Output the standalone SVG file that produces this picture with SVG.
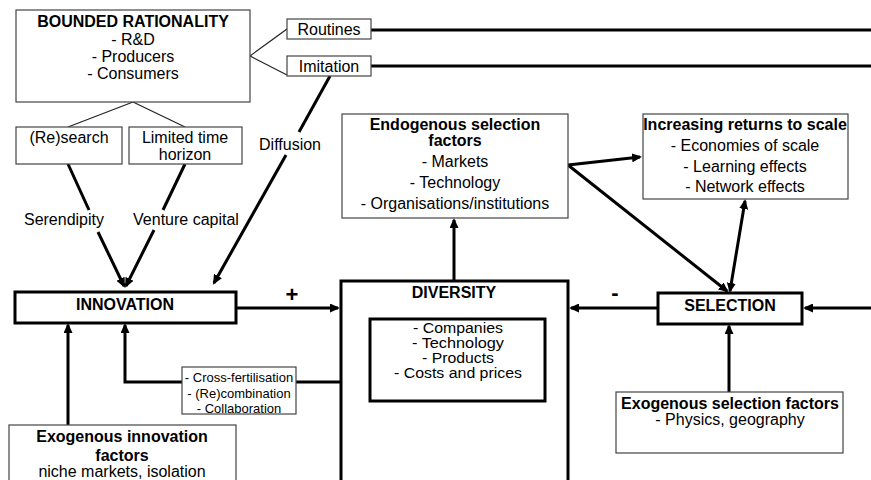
<svg xmlns="http://www.w3.org/2000/svg" width="871" height="480" viewBox="0 0 871 480">
<style>
text{font-family:"Liberation Sans",Arial,sans-serif;font-size:16px;fill:#000;text-anchor:middle}
.b{font-weight:bold}
.s{font-size:13px}
.m{font-size:14px}
.thin{fill:#fff;stroke:#444;stroke-width:1.2}
.thick{fill:#fff;stroke:#000;stroke-width:3}
.c{fill:none;stroke:#000;stroke-width:3}
.t{fill:none;stroke:#222;stroke-width:1.2}
</style>
<defs>
<marker id="a" markerUnits="userSpaceOnUse" markerWidth="10" markerHeight="9" refX="8" refY="4.5" orient="auto">
<path d="M0,0 L10,4.5 L0,9 z" fill="#000"/>
</marker>
<marker id="as" markerUnits="userSpaceOnUse" markerWidth="10" markerHeight="9" refX="2" refY="4.5" orient="auto">
<path d="M10,0 L0,4.5 L10,9 z" fill="#000"/>
</marker>
</defs>

<g id="connectors">
<line class="t" x1="250" y1="56" x2="287" y2="29"/>
<line class="t" x1="250" y1="56" x2="287" y2="75"/>
<line class="t" x1="133" y1="102" x2="68" y2="127"/>
<line class="t" x1="133" y1="102" x2="185" y2="127"/>
<line class="c" x1="371" y1="30" x2="871" y2="30"/>
<line class="c" x1="371" y1="66" x2="871" y2="66"/>
<line class="c" x1="330" y1="76" x2="299" y2="132"/>
<line class="c" x1="286" y1="155" x2="214" y2="283" marker-end="url(#a)"/>
<line class="c" x1="68" y1="164" x2="89" y2="210"/>
<line class="c" x1="98" y1="232" x2="124" y2="286" marker-end="url(#a)"/>
<line class="c" x1="185" y1="164" x2="163" y2="210"/>
<line class="c" x1="154" y1="230" x2="126" y2="286" marker-end="url(#a)"/>
<line class="c" x1="236" y1="308" x2="338" y2="308" marker-end="url(#a)"/>
<line class="c" x1="658" y1="308" x2="571" y2="308" marker-end="url(#a)"/>
<line class="c" x1="871" y1="308" x2="805" y2="308" marker-end="url(#a)"/>
<line class="c" x1="454" y1="281" x2="454" y2="220" marker-end="url(#a)"/>
<line class="c" x1="568" y1="165" x2="640" y2="157" marker-end="url(#a)"/>
<line class="c" x1="568" y1="165" x2="727" y2="291" marker-end="url(#a)"/>
<line class="c" x1="730" y1="291" x2="745" y2="201" marker-start="url(#as)" marker-end="url(#a)"/>
<line class="c" x1="729" y1="392" x2="729" y2="326" marker-end="url(#a)"/>
<line class="c" x1="68" y1="425" x2="68" y2="325" marker-end="url(#a)"/>
<line class="c" x1="341" y1="382" x2="296" y2="382"/>
<polyline class="c" points="182,382 125,382 125,325" marker-end="url(#a)"/>
<polyline class="c" points="423,402 423,434 492,434 492,403" marker-end="url(#a)"/>
<text x="64" y="225">Serendipity</text>
<text x="186" y="225">Venture capital</text>
<text x="290" y="150">Diffusion</text>
<text x="453" y="450">co-evolution</text>
<text class="b" x="292" y="302" style="font-size:22px">+</text>
<text class="b" x="615" y="300" style="font-size:22px">-</text>
</g>

<g id="bounded">
<rect class="thin" x="16" y="10" width="234" height="92"/>
<text class="b" x="133" y="27">BOUNDED RATIONALITY</text>
<text x="133" y="45">- R&amp;D</text>
<text x="133" y="62">- Producers</text>
<text x="133" y="79">- Consumers</text>
</g>
<g id="routines">
<rect class="thin" x="287" y="19" width="84" height="20"/>
<text x="329" y="35">Routines</text>
</g>
<g id="imitation">
<rect class="thin" x="287" y="56" width="84" height="20"/>
<text x="329" y="72">Imitation</text>
</g>
<g id="research">
<rect class="thin" x="16" y="127" width="106" height="37"/>
<text x="69" y="143">(Re)search</text>
</g>
<g id="limited">
<rect class="thin" x="129" y="127" width="113" height="37"/>
<text x="185" y="143">Limited time</text>
<text x="185" y="160">horizon</text>
</g>
<g id="endogenous">
<rect class="thin" x="342" y="114" width="226" height="104"/>
<text class="b" x="455" y="130">Endogenous selection</text>
<text class="b" x="455" y="146">factors</text>
<text x="455" y="167">- Markets</text>
<text x="455" y="188">- Technology</text>
<text x="455" y="209">- Organisations/institutions</text>
</g>
<g id="increasing">
<rect class="thin" x="643" y="114" width="205" height="85"/>
<text class="b" x="745" y="130">Increasing returns to scale</text>
<text x="745" y="151">- Economies of scale</text>
<text x="745" y="172">- Learning effects</text>
<text x="745" y="192">- Network effects</text>
</g>
<g id="innovation">
<rect class="thick" x="15" y="292" width="221" height="31"/>
<text class="b" x="125" y="310">INNOVATION</text>
</g>
<g id="diversity">
<rect class="thick" x="341" y="281" width="227" height="210"/>
<text class="b" x="454" y="298">DIVERSITY</text>
<rect class="thick" x="370" y="319" width="175" height="82"/>
<text class="m" x="458" y="333" textLength="90" lengthAdjust="spacingAndGlyphs">- Companies</text>
<text class="m" x="458" y="348" textLength="92" lengthAdjust="spacingAndGlyphs">- Technology</text>
<text class="m" x="458" y="363" textLength="72" lengthAdjust="spacingAndGlyphs">- Products</text>
<text class="m" x="458" y="378" textLength="128" lengthAdjust="spacingAndGlyphs">- Costs and prices</text>
</g>
<g id="selection">
<rect class="thick" x="658" y="293" width="144" height="31"/>
<text class="b" x="730" y="311">SELECTION</text>
</g>
<g id="crossfert">
<rect class="thin" x="182" y="367" width="114" height="47"/>
<text class="s" x="239" y="382">- Cross-fertilisation</text>
<text class="s" x="239" y="398">- (Re)combination</text>
<text class="s" x="239" y="413">- Collaboration</text>
</g>
<g id="exoselection">
<rect class="thin" x="616" y="392" width="227" height="61"/>
<text class="b" x="730" y="409">Exogenous selection factors</text>
<text x="730" y="425">- Physics, geography</text>
</g>
<g id="exoinnovation">
<rect class="thin" x="9" y="425" width="227" height="70"/>
<text class="b" x="122" y="442">Exogenous innovation</text>
<text class="b" x="122" y="461">factors</text>
<text x="122" y="477">niche markets, isolation</text>
</g>
</svg>
